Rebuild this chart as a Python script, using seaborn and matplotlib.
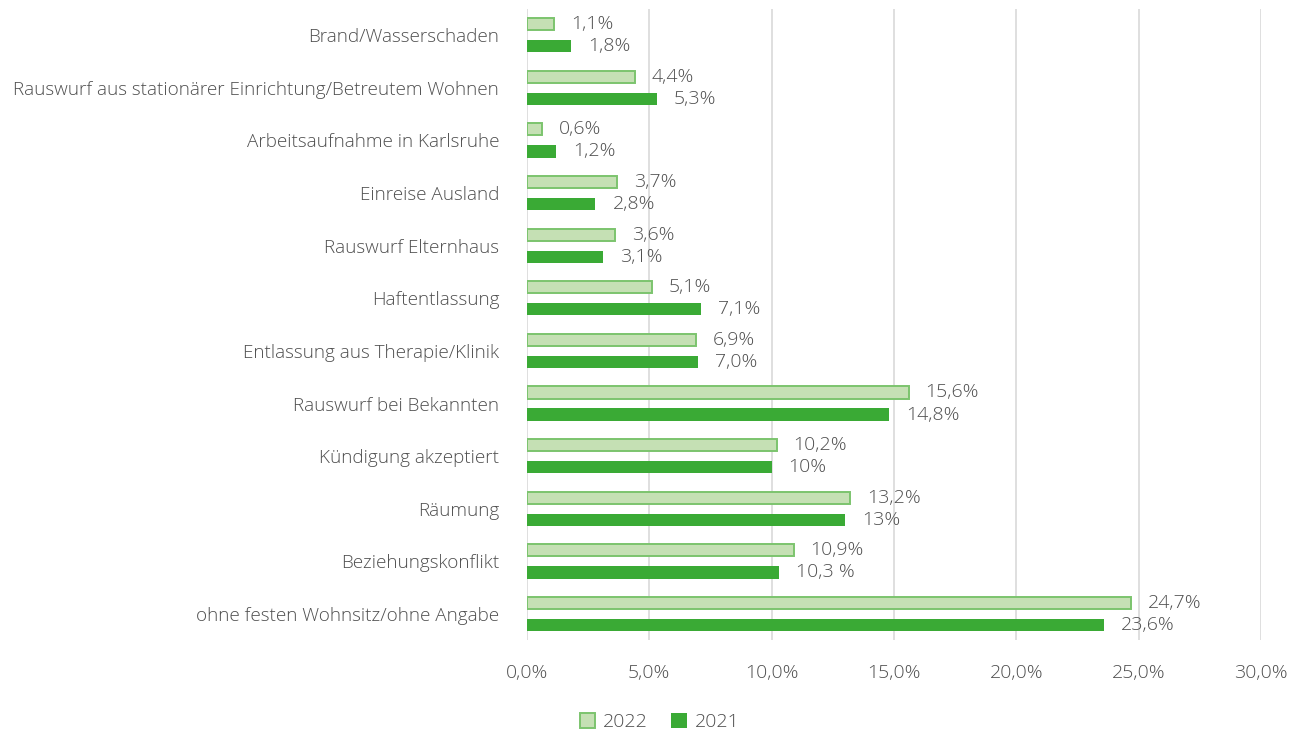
import matplotlib.pyplot as plt
import matplotlib.ticker as mticker
import pandas as pd
import seaborn as sns

categories = [
    "Brand/Wasserschaden",
    "Rauswurf aus stationärer Einrichtung/Betreutem Wohnen",
    "Arbeitsaufnahme in Karlsruhe",
    "Einreise Ausland",
    "Rauswurf Elternhaus",
    "Haftentlassung",
    "Entlassung aus Therapie/Klinik",
    "Rauswurf bei Bekannten",
    "Kündigung akzeptiert",
    "Räumung",
    "Beziehungskonflikt",
    "ohne festen Wohnsitz/ohne Angabe",
]
values_2022 = [1.1, 4.4, 0.6, 3.7, 3.6, 5.1, 6.9, 15.6, 10.2, 13.2, 10.9, 24.7]
values_2021 = [1.8, 5.3, 1.2, 2.8, 3.1, 7.1, 7.0, 14.8, 10.0, 13.0, 10.3, 23.6]
labels_2022 = ["1,1%", "4,4%", "0,6%", "3,7%", "3,6%", "5,1%", "6,9%",
               "15,6%", "10,2%", "13,2%", "10,9%", "24,7%"]
labels_2021 = ["1,8%", "5,3%", "1,2%", "2,8%", "3,1%", "7,1%", "7,0%",
               "14,8%", "10%", "13%", "10,3 %", "23,6%"]
years = ["2022", "2021"]

TEXT = "#4f4f4f"
FILL = {"2022": "#c5e0b4", "2021": "#3aaa35"}
EDGE = {"2022": "#7cc46e", "2021": "#3aaa35"}
FS = 14

sns.set_theme(style="white")
plt.rcParams["font.family"] = ["Open Sans", "DejaVu Sans"]
plt.rcParams["font.weight"] = "light"
plt.rcParams["text.color"] = TEXT

df = pd.DataFrame({
    "Grund": categories * 2,
    "Anteil": values_2022 + values_2021,
    "Jahr": ["2022"] * len(categories) + ["2021"] * len(categories),
})

fig = plt.figure(figsize=(13.06, 7.36), dpi=100)
ax = fig.add_axes([0.4035, 0.130, 0.562, 0.858])

sns.barplot(data=df, y="Grund", x="Anteil", hue="Jahr", hue_order=years,
            order=categories, palette=FILL, saturation=1, orient="h",
            width=0.84, gap=0.45, legend=True, ax=ax)

for year, cont, labels in zip(years, ax.containers, [labels_2022, labels_2021]):
    for bar, lab in zip(cont, labels):
        bar.set_edgecolor(EDGE[year])
        bar.set_linewidth(1.4 if year == "2022" else 0)
        ax.annotate(lab, (bar.get_width(), bar.get_y() + bar.get_height() / 2),
                    xytext=(17, 0), textcoords="offset pixels",
                    va="center", ha="left", fontsize=FS, color=TEXT)

ax.set_xlim(0, 30)
ax.set_ylim(len(categories) - 0.5, -0.5)
ax.xaxis.set_major_locator(mticker.MultipleLocator(5))
ax.xaxis.set_major_formatter(
    mticker.FuncFormatter(lambda v, _: f"{v:.1f}%".replace(".", ",")))
ax.grid(axis="x", color="#d9d9d9", linewidth=1.2)
ax.set_axisbelow(True)
for s in ax.spines.values():
    s.set_visible(False)
ax.tick_params(axis="both", length=0, labelsize=FS, colors=TEXT)
ax.tick_params(axis="y", labelsize=13.6, pad=20)
ax.tick_params(axis="x", pad=17)
ax.set_xlabel("")
ax.set_ylabel("")

handles, lbls = ax.get_legend_handles_labels()
for h, y in zip(handles, lbls):
    h.set_edgecolor(EDGE[y])
    h.set_linewidth(1.4 if y == "2022" else 0)
ax.legend(handles, lbls, loc="center", bbox_to_anchor=(0.505, 0.0185),
          bbox_transform=fig.transFigure, ncol=2, frameon=False, fontsize=FS,
          handlelength=0.8, handleheight=0.8, handletextpad=0.4, columnspacing=1.2)

fig.savefig("out.png", dpi=100)
